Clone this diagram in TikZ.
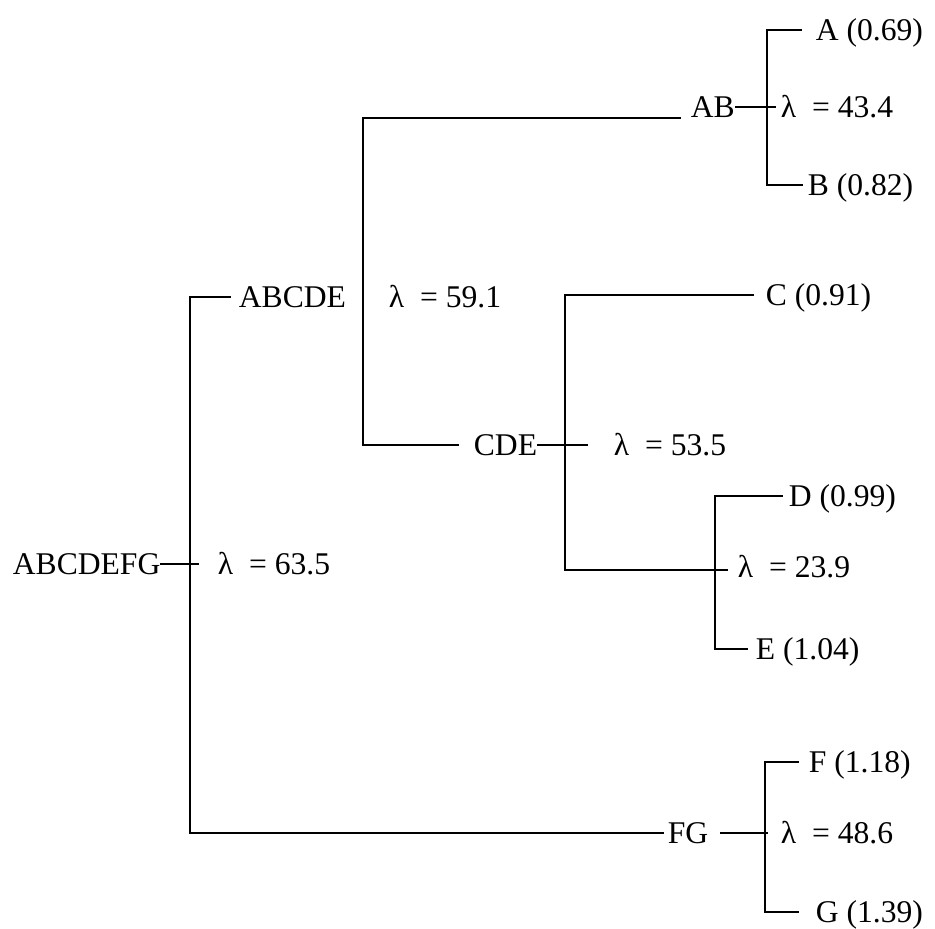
\documentclass[tikz,border=0pt]{standalone}
\usepackage{fontspec}
\setmainfont{Liberation Serif}
\usetikzlibrary{positioning}
\begin{document}
\begin{tikzpicture}[
            x=1pt,
            y=-1pt,
            line width=1.8pt,
            line cap=rect,
            lbl/.style={inner sep=0pt, anchor=west,
                        font=\fontsize{31.6}{36}\selectfont,
                        text height=20.8pt, text depth=0pt}
        ]
    
        \useasboundingbox (0,0) rectangle (935,929);
    
        % Leaves
        \node[lbl] (A) at (815,30) {A (0.69)};
        \node[lbl] (B) at (807,185) {B (0.82)};
        \node[lbl] (C) at (765,295) {C (0.91)};
        \node[lbl] (D) at (788,496) {D (0.99)};
        \node[lbl] (E) at (755,649) {E (1.04)};
        \node[lbl] (F) at (808,762) {F (1.18)};
        \node[lbl] (G) at (815,912) {G (1.39)};
    
        % Clusters
        \node[lbl] (AB) at (690,107) {AB};
        \node[lbl] (CDE) at (473,445) {CDE};
        \node[lbl] (FG) at (667,833) {FG};
        \node[lbl] (ABCDE) at (238,297) {ABCDE};
        \node[lbl] (ABCDEFG) at (12,564) {ABCDEFG};
    
        % Lambda values
        \node[lbl] (lAB) at (780,107) {λ~~= 43.4};
        \node[lbl] (lABCDE) at (388,297) {λ~~= 59.1};
        \node[lbl] (lCDE) at (613,445) {λ~~= 53.5};
        \node[lbl] (lDE) at (737,567) {λ~~= 23.9};
        \node[lbl] (lRoot) at (217,564) {λ~~= 63.5};
        \node[lbl] (lFG) at (780,833) {λ~~= 48.6};
    
        % Junctions and free line ends
        \coordinate (jAB) at (767,107);
        \coordinate (eAB) at (775,107);
        \coordinate (jCDE) at (565,445);
        \coordinate (eCDE) at (587,445);
        \coordinate (jDE) at (715,570);
        \coordinate (eDE) at (727,570);
        \coordinate (jABCDE) at (363,297);
        \coordinate (jFG) at (765,833);
        \coordinate (eFG) at (767,833);
        \coordinate (jRoot) at (190,564);
        \coordinate (eRoot) at (198,564);
    
        % AB
        \draw ([xshift=-14]A.west) -| (jAB) |- ([xshift=-5]B.west);
        \draw (AB.east) -- (eAB);
    
        % CDE and DE
        \draw ([xshift=-12]C.west) -| (jCDE) |- (eDE);
        \draw (CDE.east) -- (eCDE);
        \draw ([xshift=-6]D.west) -| (jDE) |- ([xshift=-8]E.west);
    
        % ABCDE
        \draw ([xshift=-10]AB.south west) -| (jABCDE) |- ([xshift=-15]CDE.west);
    
        % FG
        \draw ([xshift=-10]F.west) -| (jFG) |- ([xshift=-17]G.west);
        \draw ([xshift=12]FG.east) -- (eFG);
    
        % Root
        \draw ([xshift=-8]ABCDE.west) -| (jRoot) |- ([xshift=-4]FG.west);
        \draw (ABCDEFG.east) -- (eRoot);
    
        \end{tikzpicture}
\end{document}
